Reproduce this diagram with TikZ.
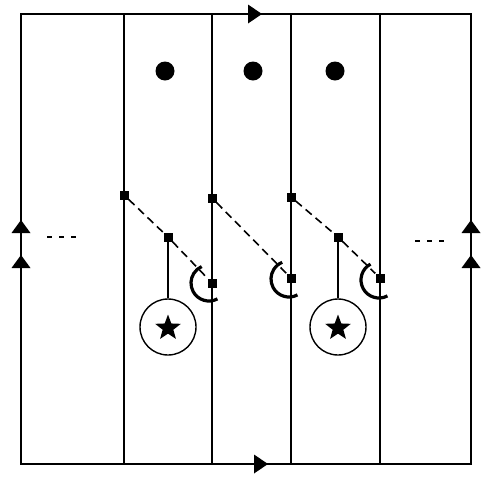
\documentclass[tikz,border=0pt]{standalone}
\usetikzlibrary{shapes.geometric}
\begin{document}
\begin{tikzpicture}[x=1pt,y=-1pt,
  wire/.style={line width=1.6pt},
  sq/.style={fill=black,inner sep=0pt,minimum size=9pt,draw=none},
  dot/.style={circle,fill=black,inner sep=0pt,minimum size=19pt},
  ring/.style={circle,draw,line width=1.4pt,inner sep=0pt,minimum size=56pt},
  starmark/.style={star,star points=5,star point ratio=2.4,fill=black,inner sep=0pt,minimum size=27pt},
  dashlink/.style={line width=1.6pt,dash pattern=on 8pt off 5pt},
  hook/.style={line width=3.2pt},
  ellip/.style={line width=1.6pt,dash pattern=on 5pt off 7pt}]
\useasboundingbox (0,0) rectangle (500,480);
% frame and vertical lines
\coordinate (tl) at (21,14); \coordinate (tr) at (471,14);
\coordinate (bl) at (21,464); \coordinate (br) at (471,464);
\draw[wire] (tl) -- (tr) -- (br) -- (bl) -- cycle;
\foreach \x in {124,212,291,380} \draw[wire] (\x,14) -- (\x,464);
% arrowheads
\fill (262,14) -- (248,4.5) -- (248,23.5) -- cycle;
\fill (268,464) -- (254,454.5) -- (254,473.5) -- cycle;
\foreach \y in {220,255} {
  \fill (21,\y) -- (11.5,\y+13) -- (30.5,\y+13) -- cycle;
  \fill (471,\y) -- (461.5,\y+13) -- (480.5,\y+13) -- cycle;
}
% dots
\node[dot] (d1) at (165,71) {};
\node[dot] (d2) at (253,71) {};
\node[dot] (d3) at (335,71) {};
% side ellipses
\coordinate (l1) at (47,237); \coordinate (l2) at (79,237);
\coordinate (r1) at (415,241); \coordinate (r2) at (447,241);
\draw[ellip] (l1) -- (l2);
\draw[ellip] (r1) -- (r2);
% squares
\node[sq] (a1) at (124,195) {};
\node[sq] (m1) at (168,237) {};
\node[sq] (e1) at (212,283) {};
\node[sq] (a2) at (212,198) {};
\node[sq] (e2) at (291,278) {};
\node[sq] (a3) at (291,197) {};
\node[sq] (m3) at (338,237) {};
\node[sq] (e3) at (380,278) {};
\draw[dashlink] (a1) -- (m1) -- (e1);
\draw[dashlink] (a2) -- (e2);
\draw[dashlink] (a3) -- (m3) -- (e3);
% circles with stars
\node[ring] (c1) at (168,327) {};
\node[ring] (c3) at (338,327) {};
\node[starmark] (s1) at (168,328) {};
\node[starmark] (s3) at (338,328) {};
\draw[line width=1.4pt] (m1) -- (c1);
\draw[line width=1.4pt] (m3) -- (c3);
% hooks
\draw[hook] ([shift={(62:18)}]209,283) arc (62:246:18);
\draw[hook] ([shift={(62:18)}]289,279) arc (62:248:18);
\draw[hook] ([shift={(62:18)}]379,280) arc (62:242:18);
\end{tikzpicture}
\end{document}
